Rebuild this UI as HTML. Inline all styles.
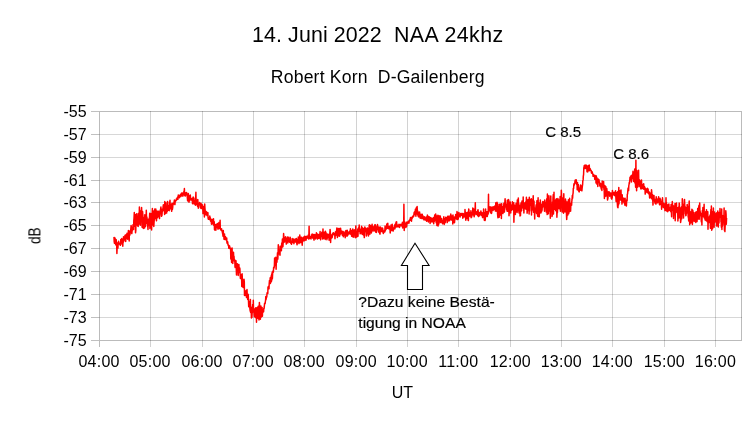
<!DOCTYPE html><html><head><meta charset="utf-8"><title>NAA 24khz</title>
<style>html,body{margin:0;padding:0;background:#fff;}svg{display:block;}text{font-family:"Liberation Sans",sans-serif;fill:#000;}</style></head><body>
<svg width="756" height="425" viewBox="0 0 756 425">
<rect width="100%" height="100%" fill="#fff"/>
<g opacity="0.999">
<path d="M99.0 134.5 H742.0 M99.0 157.5 H742.0 M99.0 180.5 H742.0 M99.0 202.5 H742.0 M99.0 225.5 H742.0 M99.0 248.5 H742.0 M99.0 271.5 H742.0 M99.0 294.5 H742.0 M99.0 317.5 H742.0" stroke="#000" stroke-opacity="0.16" stroke-width="1" fill="none" shape-rendering="crispEdges"/>
<path d="M150.5 111.0 V347.0 M202.5 111.0 V347.0 M253.5 111.0 V347.0 M304.5 111.0 V347.0 M356.5 111.0 V347.0 M407.5 111.0 V347.0 M458.5 111.0 V347.0 M510.5 111.0 V347.0 M561.5 111.0 V347.0 M612.5 111.0 V347.0 M664.5 111.0 V347.0 M715.5 111.0 V347.0" stroke="#000" stroke-opacity="0.18" stroke-width="1" fill="none" shape-rendering="crispEdges"/>
<path d="M91.0 111.5 H99.0 M91.0 134.5 H99.0 M91.0 157.5 H99.0 M91.0 180.5 H99.0 M91.0 202.5 H99.0 M91.0 225.5 H99.0 M91.0 248.5 H99.0 M91.0 271.5 H99.0 M91.0 294.5 H99.0 M91.0 317.5 H99.0 M91.0 340.5 H99.0" stroke="#000" stroke-opacity="0.25" stroke-width="1" fill="none" shape-rendering="crispEdges"/>
<path d="M99.0 340.5 H742.0 M99.0 111.5 H742.0 M99.5 111.0 V347.0 M741.5 111.0 V341.0" stroke="#000" stroke-opacity="0.27" stroke-width="1" fill="none" shape-rendering="crispEdges"/>
<text x="86.6" y="116.55" font-size="16" text-anchor="end">-55</text>
<text x="86.6" y="139.55" font-size="16" text-anchor="end">-57</text>
<text x="86.6" y="162.55" font-size="16" text-anchor="end">-59</text>
<text x="86.6" y="185.55" font-size="16" text-anchor="end">-61</text>
<text x="86.6" y="207.55" font-size="16" text-anchor="end">-63</text>
<text x="86.6" y="230.55" font-size="16" text-anchor="end">-65</text>
<text x="86.6" y="253.55" font-size="16" text-anchor="end">-67</text>
<text x="86.6" y="276.55" font-size="16" text-anchor="end">-69</text>
<text x="86.6" y="299.55" font-size="16" text-anchor="end">-71</text>
<text x="86.6" y="322.55" font-size="16" text-anchor="end">-73</text>
<text x="86.6" y="345.55" font-size="16" text-anchor="end">-75</text>
<text x="99.05" y="366.7" font-size="16" text-anchor="middle" letter-spacing="0.25">04:00</text>
<text x="150.08" y="366.7" font-size="16" text-anchor="middle" letter-spacing="0.25">05:00</text>
<text x="202.11" y="366.7" font-size="16" text-anchor="middle" letter-spacing="0.25">06:00</text>
<text x="253.14" y="366.7" font-size="16" text-anchor="middle" letter-spacing="0.25">07:00</text>
<text x="304.17" y="366.7" font-size="16" text-anchor="middle" letter-spacing="0.25">08:00</text>
<text x="356.20" y="366.7" font-size="16" text-anchor="middle" letter-spacing="0.25">09:00</text>
<text x="407.23" y="366.7" font-size="16" text-anchor="middle" letter-spacing="0.25">10:00</text>
<text x="458.26" y="366.7" font-size="16" text-anchor="middle" letter-spacing="0.25">11:00</text>
<text x="510.29" y="366.7" font-size="16" text-anchor="middle" letter-spacing="0.25">12:00</text>
<text x="561.32" y="366.7" font-size="16" text-anchor="middle" letter-spacing="0.25">13:00</text>
<text x="612.35" y="366.7" font-size="16" text-anchor="middle" letter-spacing="0.25">14:00</text>
<text x="664.38" y="366.7" font-size="16" text-anchor="middle" letter-spacing="0.25">15:00</text>
<text x="715.41" y="366.7" font-size="16" text-anchor="middle" letter-spacing="0.25">16:00</text>
<text x="252.0" y="41.9" font-size="21.4" textLength="129.7">14. Juni 2022</text>
<text x="394.0" y="41.9" font-size="21.4" textLength="109.2">NAA 24khz</text>
<text x="270.8" y="82.5" font-size="17.6" textLength="213.7" xml:space="preserve" style="white-space:pre">Robert Korn  D-Gailenberg</text>
<text x="402.4" y="398.1" font-size="16" text-anchor="middle">UT</text>
<text transform="translate(40.4,244.0) rotate(-90)" font-size="16" textLength="16.7" lengthAdjust="spacingAndGlyphs">dB</text>
<path d="M114.0 236.9 L114.2 241.6 L114.5 243.3 L114.7 239.8 L115.0 238.1 L115.2 241.5 L115.5 243.0 L115.7 244.8 L116.0 239.6 L116.2 239.7 L116.4 244.7 L116.7 244.3 L116.9 253.4 L117.2 245.6 L117.4 243.1 L117.7 242.7 L117.9 248.1 L118.2 242.9 L118.4 241.9 L118.6 241.3 L118.9 243.8 L119.1 243.9 L119.4 243.1 L119.6 243.7 L119.9 244.2 L120.1 244.7 L120.4 245.3 L120.6 243.5 L120.8 239.4 L121.1 244.1 L121.3 239.4 L121.6 241.9 L121.8 238.5 L122.1 241.8 L122.3 239.7 L122.6 241.9 L122.8 246.3 L123.0 240.5 L123.3 242.3 L123.5 236.7 L123.8 238.8 L124.0 240.8 L124.3 238.6 L124.5 239.3 L124.8 238.3 L125.0 235.2 L125.2 238.7 L125.5 234.9 L125.7 241.4 L126.0 234.9 L126.2 237.7 L126.5 235.7 L126.7 238.4 L127.0 233.2 L127.2 238.4 L127.4 234.3 L127.7 239.3 L127.9 236.7 L128.2 234.6 L128.4 230.5 L128.7 237.0 L128.9 235.5 L129.2 240.9 L129.4 231.1 L129.6 235.4 L129.9 235.0 L130.1 233.4 L130.4 232.5 L130.6 231.9 L130.9 227.8 L131.1 225.6 L131.4 227.7 L131.6 231.0 L131.8 233.6 L132.1 230.8 L132.3 230.2 L132.6 228.4 L132.8 227.3 L133.1 224.6 L133.3 226.1 L133.6 229.6 L133.8 220.6 L134.0 218.5 L134.3 212.5 L134.5 222.6 L134.8 226.3 L135.0 225.7 L135.3 214.4 L135.5 232.8 L135.8 230.6 L136.0 221.1 L136.2 224.4 L136.5 220.3 L136.7 213.7 L137.0 218.4 L137.2 221.3 L137.5 225.7 L137.7 223.0 L138.0 218.8 L138.2 226.5 L138.4 213.5 L138.7 222.6 L138.9 224.2 L139.2 215.8 L139.4 206.9 L139.7 211.9 L139.9 218.3 L140.2 219.7 L140.4 225.2 L140.6 210.9 L140.9 216.2 L141.1 219.5 L141.4 215.0 L141.6 207.5 L141.9 220.1 L142.1 227.3 L142.4 221.4 L142.6 211.6 L142.8 214.4 L143.1 218.0 L143.3 228.4 L143.6 220.5 L143.8 218.1 L144.1 225.9 L144.3 217.5 L144.6 227.9 L144.8 214.7 L145.0 216.0 L145.3 222.6 L145.5 226.5 L145.8 222.7 L146.0 221.1 L146.3 210.2 L146.5 216.3 L146.8 217.1 L147.0 217.7 L147.2 223.8 L147.5 219.2 L147.7 225.5 L148.0 229.5 L148.2 219.5 L148.5 221.8 L148.7 223.3 L149.0 225.4 L149.2 218.2 L149.4 219.4 L149.7 213.3 L149.9 228.6 L150.2 227.6 L150.4 219.1 L150.7 217.4 L150.9 213.4 L151.2 220.4 L151.4 220.4 L151.6 230.0 L151.9 220.3 L152.1 215.1 L152.4 208.4 L152.6 225.1 L152.9 219.2 L153.1 211.1 L153.4 218.7 L153.6 211.1 L153.8 226.4 L154.1 221.8 L154.3 219.4 L154.6 216.4 L154.8 209.1 L155.1 216.3 L155.3 211.1 L155.6 218.4 L155.8 209.1 L156.0 213.2 L156.3 219.8 L156.5 220.8 L156.8 212.1 L157.0 211.0 L157.3 217.8 L157.5 217.4 L157.8 212.4 L158.0 212.9 L158.2 212.7 L158.5 211.2 L158.7 212.3 L159.0 217.0 L159.2 215.3 L159.5 218.6 L159.7 212.9 L160.0 212.5 L160.2 210.0 L160.4 212.2 L160.7 208.6 L160.9 207.0 L161.2 214.1 L161.4 216.3 L161.7 214.4 L161.9 215.8 L162.2 212.2 L162.4 208.9 L162.6 211.4 L162.9 209.7 L163.1 206.9 L163.4 204.7 L163.6 205.3 L163.9 210.3 L164.1 210.7 L164.4 208.5 L164.6 214.6 L164.8 201.4 L165.1 211.5 L165.3 213.4 L165.6 206.7 L165.8 202.8 L166.1 211.5 L166.3 206.7 L166.6 213.1 L166.8 209.8 L167.0 211.8 L167.3 210.9 L167.5 201.6 L167.8 210.5 L168.0 205.9 L168.3 205.5 L168.5 206.4 L168.8 210.1 L169.0 210.4 L169.2 210.7 L169.5 202.0 L169.7 205.3 L170.0 200.2 L170.2 206.6 L170.5 208.7 L170.7 204.2 L171.0 207.3 L171.2 207.1 L171.4 209.3 L171.7 211.3 L171.9 203.4 L172.2 203.3 L172.4 209.5 L172.7 207.4 L172.9 204.1 L173.2 204.6 L173.4 204.0 L173.6 203.8 L173.9 202.6 L174.1 202.1 L174.4 200.0 L174.6 200.9 L174.9 204.6 L175.1 202.3 L175.4 201.2 L175.6 200.4 L175.8 200.5 L176.1 200.7 L176.3 199.0 L176.6 199.9 L176.8 199.7 L177.1 198.0 L177.3 197.7 L177.6 197.2 L177.8 196.8 L178.0 199.2 L178.3 194.9 L178.5 197.1 L178.8 196.4 L179.0 196.1 L179.3 196.7 L179.5 197.7 L179.8 196.2 L180.0 195.6 L180.2 194.8 L180.5 195.3 L180.7 196.6 L181.0 194.7 L181.2 193.5 L181.5 193.2 L181.7 193.3 L182.0 192.8 L182.2 196.0 L182.4 194.9 L182.7 193.9 L182.9 196.1 L183.2 193.1 L183.4 194.9 L183.7 194.8 L183.9 191.4 L184.2 191.2 L184.4 188.6 L184.6 194.9 L184.9 195.7 L185.1 192.4 L185.4 195.9 L185.6 194.0 L185.9 194.2 L186.1 194.2 L186.4 194.8 L186.6 192.4 L186.8 194.0 L187.1 193.8 L187.3 197.2 L187.6 200.6 L187.8 201.0 L188.1 196.3 L188.3 193.6 L188.6 196.6 L188.8 195.6 L189.0 202.3 L189.3 199.3 L189.5 196.6 L189.8 200.5 L190.0 199.8 L190.3 195.1 L190.5 197.7 L190.8 198.6 L191.0 199.3 L191.2 199.7 L191.5 198.9 L191.7 200.2 L192.0 198.7 L192.2 198.2 L192.5 203.8 L192.7 201.4 L193.0 201.7 L193.2 197.0 L193.4 200.5 L193.7 203.1 L193.9 198.0 L194.2 204.1 L194.4 200.4 L194.7 202.6 L194.9 201.3 L195.2 202.4 L195.4 205.2 L195.6 201.0 L195.9 192.3 L196.1 200.2 L196.4 200.1 L196.6 204.5 L196.9 200.2 L197.1 202.2 L197.4 205.5 L197.6 206.3 L197.8 199.5 L198.1 205.0 L198.3 208.2 L198.6 206.8 L198.8 203.9 L199.1 203.3 L199.3 204.1 L199.6 202.6 L199.8 204.6 L200.0 204.9 L200.3 205.2 L200.5 207.9 L200.8 205.5 L201.0 203.2 L201.3 208.6 L201.5 204.2 L201.8 205.8 L202.0 206.7 L202.2 206.4 L202.5 204.9 L202.7 207.0 L203.0 213.6 L203.2 206.4 L203.5 207.9 L203.7 211.8 L204.0 211.0 L204.2 211.2 L204.4 217.0 L204.7 204.1 L204.9 207.7 L205.2 210.8 L205.4 212.2 L205.7 214.8 L205.9 213.0 L206.2 211.5 L206.4 212.6 L206.6 212.4 L206.9 214.0 L207.1 215.6 L207.4 213.3 L207.6 212.4 L207.9 212.8 L208.1 218.3 L208.4 219.2 L208.6 218.8 L208.8 218.8 L209.1 219.2 L209.3 217.6 L209.6 219.6 L209.8 216.0 L210.1 218.4 L210.3 217.7 L210.6 221.3 L210.8 218.9 L211.0 220.3 L211.3 221.9 L211.5 224.3 L211.8 219.6 L212.0 219.5 L212.3 224.0 L212.5 219.6 L212.8 223.6 L213.0 221.4 L213.2 222.8 L213.5 218.8 L213.7 225.3 L214.0 222.6 L214.2 221.8 L214.5 229.6 L214.7 226.4 L215.0 230.3 L215.2 226.2 L215.4 224.5 L215.7 225.9 L215.9 230.1 L216.2 225.8 L216.4 227.2 L216.7 227.5 L216.9 223.9 L217.2 226.8 L217.4 225.3 L217.6 223.5 L217.9 229.1 L218.1 228.7 L218.4 227.3 L218.6 225.0 L218.9 222.5 L219.1 228.7 L219.4 227.4 L219.6 223.8 L219.8 227.8 L220.1 220.3 L220.3 228.2 L220.6 229.0 L220.8 229.8 L221.1 230.1 L221.3 230.5 L221.6 228.8 L221.8 230.6 L222.0 230.8 L222.3 231.8 L222.5 233.1 L222.8 234.2 L223.0 236.3 L223.3 230.6 L223.5 235.3 L223.8 234.8 L224.0 239.2 L224.2 237.6 L224.5 233.9 L224.7 237.7 L225.0 236.7 L225.2 239.7 L225.5 236.8 L225.7 238.9 L226.0 239.3 L226.2 239.8 L226.4 239.5 L226.7 238.0 L226.9 242.2 L227.2 243.4 L227.4 242.5 L227.7 241.9 L227.9 244.1 L228.2 245.3 L228.4 244.9 L228.6 245.8 L228.9 248.3 L229.1 245.6 L229.4 247.0 L229.6 245.9 L229.9 248.1 L230.1 248.7 L230.4 249.1 L230.6 248.2 L230.8 258.9 L231.1 251.5 L231.3 252.5 L231.6 262.4 L231.8 254.0 L232.1 247.9 L232.3 257.2 L232.6 252.4 L232.8 263.5 L233.0 252.5 L233.3 255.8 L233.5 252.3 L233.8 260.0 L234.0 256.3 L234.3 261.0 L234.5 260.5 L234.8 260.0 L235.0 266.9 L235.2 267.4 L235.5 264.3 L235.7 260.9 L236.0 260.8 L236.2 266.7 L236.5 274.9 L236.7 264.8 L237.0 264.0 L237.2 264.9 L237.4 263.7 L237.7 264.7 L237.9 268.4 L238.2 275.5 L238.4 270.2 L238.7 268.6 L238.9 264.6 L239.2 272.6 L239.4 272.1 L239.6 267.7 L239.9 268.8 L240.1 273.6 L240.4 278.4 L240.6 277.4 L240.9 276.3 L241.1 274.7 L241.4 277.9 L241.6 277.1 L241.8 286.4 L242.1 273.8 L242.3 277.7 L242.6 285.1 L242.8 279.7 L243.1 287.4 L243.3 282.2 L243.6 283.8 L243.8 282.4 L244.0 279.2 L244.3 281.8 L244.5 295.5 L244.8 290.3 L245.0 291.1 L245.3 293.5 L245.5 293.0 L245.8 295.6 L246.0 291.1 L246.2 291.9 L246.5 297.5 L246.7 292.8 L247.0 289.5 L247.2 294.7 L247.5 294.1 L247.7 299.5 L248.0 294.9 L248.2 294.4 L248.4 298.3 L248.7 306.8 L248.9 301.2 L249.2 302.9 L249.4 303.1 L249.7 305.2 L249.9 308.6 L250.2 311.2 L250.4 299.6 L250.6 312.5 L250.9 307.7 L251.1 307.1 L251.4 317.9 L251.6 308.8 L251.9 317.4 L252.1 313.4 L252.4 312.1 L252.6 304.4 L252.8 304.8 L253.1 311.3 L253.3 300.2 L253.6 312.0 L253.8 308.2 L254.1 314.3 L254.3 316.5 L254.6 309.2 L254.8 316.5 L255.0 309.6 L255.3 317.5 L255.5 310.5 L255.8 307.7 L256.0 315.1 L256.3 311.8 L256.5 322.2 L256.8 308.6 L257.0 318.4 L257.2 307.4 L257.5 316.0 L257.7 310.3 L258.0 317.1 L258.2 306.2 L258.5 318.7 L258.7 308.8 L259.0 320.1 L259.2 307.9 L259.4 302.4 L259.7 306.9 L259.9 317.1 L260.2 310.2 L260.4 319.2 L260.7 307.6 L260.9 306.1 L261.2 309.1 L261.4 316.9 L261.6 308.6 L261.9 316.2 L262.1 307.4 L262.4 316.3 L262.6 309.9 L262.9 310.0 L263.1 312.1 L263.4 310.3 L263.6 311.7 L263.8 308.3 L264.1 308.5 L264.3 306.7 L264.6 303.3 L264.8 303.7 L265.1 303.6 L265.3 302.0 L265.6 300.1 L265.8 296.5 L266.0 299.6 L266.3 298.0 L266.5 297.4 L266.8 296.7 L267.0 293.6 L267.3 292.4 L267.5 292.5 L267.8 293.4 L268.0 287.1 L268.2 288.4 L268.5 286.3 L268.7 287.7 L269.0 288.7 L269.2 283.7 L269.5 280.4 L269.7 283.0 L270.0 281.5 L270.2 277.7 L270.4 283.4 L270.7 279.1 L270.9 281.8 L271.2 275.7 L271.4 281.8 L271.7 274.0 L271.9 279.9 L272.2 272.0 L272.4 278.5 L272.6 273.9 L272.9 271.0 L273.1 272.4 L273.4 272.0 L273.6 267.7 L273.9 267.2 L274.1 267.8 L274.4 265.4 L274.6 257.9 L274.8 262.5 L275.1 264.7 L275.3 263.3 L275.6 265.4 L275.8 257.2 L276.1 269.3 L276.3 262.5 L276.6 259.7 L276.8 262.5 L277.0 261.3 L277.3 256.8 L277.5 252.8 L277.8 259.1 L278.0 255.4 L278.3 244.7 L278.5 247.6 L278.8 253.9 L279.0 251.7 L279.2 251.9 L279.5 252.8 L279.7 250.2 L280.0 255.3 L280.2 246.2 L280.5 246.4 L280.7 248.6 L281.0 249.5 L281.2 249.1 L281.4 250.7 L281.7 243.0 L281.9 247.7 L282.2 244.6 L282.4 239.1 L282.7 241.1 L282.9 246.7 L283.2 242.7 L283.4 238.8 L283.6 233.6 L283.9 237.3 L284.1 237.3 L284.4 238.9 L284.6 242.1 L284.9 240.0 L285.1 239.4 L285.4 237.3 L285.6 236.8 L285.8 238.8 L286.1 238.4 L286.3 244.1 L286.6 238.6 L286.8 238.2 L287.1 242.5 L287.3 240.1 L287.6 237.1 L287.8 243.0 L288.0 239.5 L288.3 237.3 L288.5 241.0 L288.8 241.4 L289.0 239.8 L289.3 241.9 L289.5 242.2 L289.8 239.2 L290.0 237.3 L290.2 237.3 L290.5 240.8 L290.7 243.1 L291.0 242.7 L291.2 243.4 L291.5 244.2 L291.7 241.2 L292.0 243.0 L292.2 238.6 L292.4 242.4 L292.7 241.9 L292.9 241.0 L293.2 240.4 L293.4 239.1 L293.7 241.5 L293.9 243.7 L294.2 240.5 L294.4 242.3 L294.6 239.8 L294.9 241.7 L295.1 239.0 L295.4 242.0 L295.6 240.7 L295.9 241.9 L296.1 239.8 L296.4 238.4 L296.6 240.3 L296.8 243.5 L297.1 244.8 L297.3 240.2 L297.6 242.8 L297.8 242.7 L298.1 241.8 L298.3 237.0 L298.6 241.5 L298.8 238.2 L299.0 243.6 L299.3 242.5 L299.5 242.1 L299.8 234.9 L300.0 242.0 L300.3 242.2 L300.5 237.0 L300.8 242.8 L301.0 240.4 L301.2 239.7 L301.5 238.2 L301.7 237.3 L302.0 238.8 L302.2 245.2 L302.5 240.2 L302.7 240.1 L303.0 237.9 L303.2 237.9 L303.4 238.0 L303.7 237.1 L303.9 240.9 L304.2 238.3 L304.4 240.6 L304.7 236.3 L304.9 240.4 L305.2 238.4 L305.4 239.6 L305.6 238.0 L305.9 236.5 L306.1 240.1 L306.4 237.1 L306.6 237.5 L306.9 236.2 L307.1 238.1 L307.4 237.0 L307.6 238.1 L307.8 238.2 L308.1 236.4 L308.3 235.1 L308.6 238.3 L308.8 239.1 L309.1 226.3 L309.3 235.5 L309.6 238.5 L309.8 238.1 L310.0 237.9 L310.3 238.1 L310.5 236.8 L310.8 237.7 L311.0 238.9 L311.3 236.4 L311.5 234.7 L311.8 237.0 L312.0 237.5 L312.2 233.9 L312.5 235.9 L312.7 238.1 L313.0 236.7 L313.2 237.1 L313.5 234.6 L313.7 238.6 L314.0 240.1 L314.2 236.4 L314.4 235.3 L314.7 234.5 L314.9 238.4 L315.2 236.8 L315.4 235.0 L315.7 238.9 L315.9 238.0 L316.2 237.6 L316.4 232.8 L316.6 236.1 L316.9 237.6 L317.1 233.7 L317.4 238.1 L317.6 239.1 L317.9 238.2 L318.1 234.5 L318.4 234.4 L318.6 237.8 L318.8 237.9 L319.1 238.3 L319.3 238.2 L319.6 235.4 L319.8 234.7 L320.1 231.6 L320.3 237.0 L320.6 239.8 L320.8 234.3 L321.0 234.2 L321.3 236.5 L321.5 235.8 L321.8 232.2 L322.0 233.5 L322.3 232.6 L322.5 239.0 L322.8 233.3 L323.0 228.9 L323.2 238.7 L323.5 238.6 L323.7 237.7 L324.0 238.2 L324.2 232.2 L324.5 234.1 L324.7 233.3 L325.0 234.3 L325.2 239.5 L325.4 231.3 L325.7 236.2 L325.9 232.3 L326.2 237.9 L326.4 237.9 L326.7 234.0 L326.9 239.7 L327.2 235.3 L327.4 238.1 L327.6 235.9 L327.9 234.0 L328.1 234.4 L328.4 235.0 L328.6 236.7 L328.9 235.6 L329.1 240.3 L329.4 235.0 L329.6 234.4 L329.8 233.8 L330.1 229.4 L330.3 232.1 L330.6 242.4 L330.8 237.6 L331.1 235.5 L331.3 234.9 L331.6 236.2 L331.8 238.0 L332.0 236.8 L332.3 237.2 L332.5 233.7 L332.8 234.4 L333.0 233.0 L333.3 234.8 L333.5 232.8 L333.8 234.0 L334.0 234.5 L334.2 234.3 L334.5 234.2 L334.7 233.5 L335.0 238.8 L335.2 233.8 L335.5 231.7 L335.7 235.4 L336.0 231.4 L336.2 231.3 L336.4 235.0 L336.7 229.4 L336.9 227.9 L337.2 235.4 L337.4 237.5 L337.7 229.4 L337.9 231.7 L338.2 235.9 L338.4 228.5 L338.6 231.6 L338.9 230.7 L339.1 233.4 L339.4 228.6 L339.6 236.2 L339.9 233.4 L340.1 234.5 L340.4 232.8 L340.6 228.3 L340.8 233.2 L341.1 230.3 L341.3 233.6 L341.6 231.5 L341.8 232.8 L342.1 233.1 L342.3 235.3 L342.6 235.3 L342.8 231.3 L343.0 233.5 L343.3 236.7 L343.5 234.6 L343.8 232.0 L344.0 233.3 L344.3 232.9 L344.5 235.5 L344.8 233.6 L345.0 234.3 L345.2 237.7 L345.5 231.0 L345.7 231.7 L346.0 230.5 L346.2 230.8 L346.5 235.1 L346.7 234.1 L347.0 236.3 L347.2 230.2 L347.4 231.8 L347.7 235.4 L347.9 234.6 L348.2 234.2 L348.4 234.0 L348.7 232.3 L348.9 232.1 L349.2 231.9 L349.4 233.3 L349.6 231.2 L349.9 231.9 L350.1 234.3 L350.4 228.8 L350.6 229.7 L350.9 232.6 L351.1 230.8 L351.4 231.1 L351.6 236.2 L351.8 232.4 L352.1 230.5 L352.3 234.1 L352.6 236.7 L352.8 229.0 L353.1 230.0 L353.3 232.0 L353.6 230.2 L353.8 237.2 L354.0 233.1 L354.3 230.8 L354.5 233.2 L354.8 229.8 L355.0 230.4 L355.3 232.3 L355.5 237.8 L355.8 226.1 L356.0 233.0 L356.2 235.6 L356.5 233.9 L356.7 237.1 L357.0 233.0 L357.2 232.1 L357.5 231.3 L357.7 229.2 L358.0 236.3 L358.2 228.2 L358.4 231.2 L358.7 230.0 L358.9 229.2 L359.2 225.1 L359.4 230.2 L359.7 231.7 L359.9 231.7 L360.2 233.8 L360.4 230.7 L360.6 229.2 L360.9 232.1 L361.1 233.1 L361.4 228.3 L361.6 226.3 L361.9 227.8 L362.1 234.3 L362.4 234.1 L362.6 228.1 L362.8 231.2 L363.1 233.5 L363.3 235.0 L363.6 228.6 L363.8 229.9 L364.1 235.2 L364.3 237.6 L364.6 235.5 L364.8 226.9 L365.0 232.0 L365.3 229.5 L365.5 230.3 L365.8 228.3 L366.0 228.9 L366.3 230.3 L366.5 235.9 L366.8 232.4 L367.0 231.6 L367.2 230.3 L367.5 227.9 L367.7 229.4 L368.0 233.9 L368.2 232.6 L368.5 235.9 L368.7 230.8 L369.0 229.9 L369.2 225.1 L369.4 231.1 L369.7 224.8 L369.9 234.3 L370.2 228.0 L370.4 229.8 L370.7 225.8 L370.9 228.3 L371.2 227.0 L371.4 232.9 L371.6 230.3 L371.9 226.3 L372.1 224.2 L372.4 229.4 L372.6 228.2 L372.9 226.4 L373.1 231.1 L373.4 229.0 L373.6 229.7 L373.8 227.8 L374.1 227.9 L374.3 228.2 L374.6 225.1 L374.8 231.0 L375.1 230.4 L375.3 224.8 L375.6 229.5 L375.8 232.2 L376.0 229.8 L376.3 232.5 L376.5 228.5 L376.8 229.2 L377.0 225.9 L377.3 226.9 L377.5 224.6 L377.8 227.0 L378.0 229.8 L378.2 230.5 L378.5 232.1 L378.7 229.6 L379.0 227.0 L379.2 230.4 L379.5 229.1 L379.7 233.6 L380.0 234.1 L380.2 231.8 L380.4 227.0 L380.7 228.5 L380.9 230.1 L381.2 228.1 L381.4 230.9 L381.7 231.3 L381.9 231.7 L382.2 230.4 L382.4 228.0 L382.6 228.2 L382.9 229.8 L383.1 232.9 L383.4 233.5 L383.6 232.2 L383.9 230.9 L384.1 231.4 L384.4 231.4 L384.6 232.1 L384.8 231.0 L385.1 226.1 L385.3 230.8 L385.6 229.4 L385.8 227.5 L386.1 229.2 L386.3 228.5 L386.6 227.6 L386.8 224.0 L387.0 227.5 L387.3 228.2 L387.5 226.7 L387.8 223.2 L388.0 228.0 L388.3 228.7 L388.5 227.7 L388.8 228.3 L389.0 226.7 L389.2 226.2 L389.5 229.0 L389.7 227.1 L390.0 228.5 L390.2 233.0 L390.5 229.9 L390.7 228.8 L391.0 225.0 L391.2 229.0 L391.4 230.6 L391.7 227.5 L391.9 228.6 L392.2 224.3 L392.4 230.4 L392.7 227.7 L392.9 230.0 L393.2 231.0 L393.4 227.7 L393.6 229.7 L393.9 228.0 L394.1 226.8 L394.4 226.4 L394.6 225.0 L394.9 228.8 L395.1 227.7 L395.4 223.9 L395.6 227.0 L395.8 223.8 L396.1 222.1 L396.3 227.0 L396.6 221.7 L396.8 226.8 L397.1 224.8 L397.3 226.3 L397.6 225.5 L397.8 226.8 L398.0 225.3 L398.3 225.8 L398.5 225.2 L398.8 226.7 L399.0 224.3 L399.3 226.6 L399.5 227.4 L399.8 225.0 L400.0 225.8 L400.2 224.5 L400.5 224.9 L400.7 225.7 L401.0 224.9 L401.2 224.2 L401.5 225.3 L401.7 225.6 L402.0 225.8 L402.2 226.6 L402.4 222.2 L402.7 227.9 L402.9 225.0 L403.2 223.8 L403.4 224.6 L403.7 226.1 L403.9 204.3 L404.2 230.5 L404.4 225.3 L404.6 221.8 L404.9 225.0 L405.1 224.3 L405.4 223.6 L405.6 225.9 L405.9 227.5 L406.1 225.9 L406.4 222.3 L406.6 226.5 L406.8 222.8 L407.1 223.2 L407.3 222.0 L407.6 223.6 L407.8 223.5 L408.1 222.6 L408.3 221.7 L408.6 221.6 L408.8 220.9 L409.0 223.1 L409.3 220.2 L409.5 220.6 L409.8 220.3 L410.0 219.1 L410.3 219.8 L410.5 217.4 L410.8 220.4 L411.0 220.3 L411.2 218.7 L411.5 221.2 L411.7 217.4 L412.0 218.7 L412.2 218.1 L412.5 216.5 L412.7 216.4 L413.0 217.2 L413.2 215.9 L413.4 215.6 L413.7 216.3 L413.9 214.7 L414.2 212.3 L414.4 212.7 L414.7 214.4 L414.9 213.0 L415.2 211.2 L415.4 209.2 L415.6 213.7 L415.9 216.2 L416.1 210.0 L416.4 207.5 L416.6 214.1 L416.9 211.3 L417.1 206.4 L417.4 212.1 L417.6 210.7 L417.8 214.5 L418.1 216.0 L418.3 214.6 L418.6 212.3 L418.8 216.9 L419.1 213.9 L419.3 216.0 L419.6 211.9 L419.8 216.5 L420.0 216.8 L420.3 218.3 L420.5 215.3 L420.8 216.5 L421.0 214.3 L421.3 217.9 L421.5 217.8 L421.8 218.6 L422.0 215.7 L422.2 214.2 L422.5 216.7 L422.7 216.7 L423.0 216.0 L423.2 218.5 L423.5 219.2 L423.7 218.5 L424.0 219.9 L424.2 218.9 L424.4 216.7 L424.7 217.4 L424.9 217.8 L425.2 219.5 L425.4 220.0 L425.7 218.7 L425.9 220.2 L426.2 217.0 L426.4 218.3 L426.6 221.3 L426.9 219.4 L427.1 220.5 L427.4 215.1 L427.6 215.5 L427.9 217.1 L428.1 220.7 L428.4 221.9 L428.6 217.6 L428.8 216.8 L429.1 216.7 L429.3 217.0 L429.6 220.2 L429.8 218.3 L430.1 223.5 L430.3 220.9 L430.6 217.4 L430.8 219.8 L431.0 218.8 L431.3 221.4 L431.5 221.8 L431.8 218.3 L432.0 221.9 L432.3 221.1 L432.5 219.2 L432.8 220.3 L433.0 221.7 L433.2 218.5 L433.5 217.4 L433.7 223.8 L434.0 219.7 L434.2 217.7 L434.5 221.2 L434.7 214.9 L435.0 219.9 L435.2 215.3 L435.4 218.4 L435.7 214.0 L435.9 217.5 L436.2 222.7 L436.4 219.2 L436.7 215.9 L436.9 225.5 L437.2 217.8 L437.4 224.7 L437.6 218.2 L437.9 215.2 L438.1 225.9 L438.4 218.6 L438.6 222.5 L438.9 223.9 L439.1 215.8 L439.4 220.3 L439.6 218.2 L439.8 222.0 L440.1 220.1 L440.3 216.0 L440.6 220.3 L440.8 222.6 L441.1 219.2 L441.3 221.9 L441.6 218.4 L441.8 219.9 L442.0 221.1 L442.3 220.4 L442.5 223.7 L442.8 222.7 L443.0 222.3 L443.3 221.9 L443.5 220.3 L443.8 216.7 L444.0 222.7 L444.2 224.4 L444.5 220.4 L444.7 219.1 L445.0 219.6 L445.2 222.7 L445.5 220.4 L445.7 217.3 L446.0 219.2 L446.2 217.8 L446.4 219.1 L446.7 217.6 L446.9 217.6 L447.2 222.6 L447.4 221.6 L447.7 216.2 L447.9 217.4 L448.2 218.5 L448.4 218.6 L448.6 216.6 L448.9 221.0 L449.1 215.9 L449.4 220.6 L449.6 220.6 L449.9 218.2 L450.1 217.6 L450.4 219.1 L450.6 219.2 L450.8 214.0 L451.1 215.9 L451.3 220.0 L451.6 218.4 L451.8 217.6 L452.1 216.1 L452.3 216.8 L452.6 216.5 L452.8 224.1 L453.0 215.1 L453.3 222.4 L453.5 219.6 L453.8 218.8 L454.0 218.7 L454.3 217.1 L454.5 222.7 L454.8 219.5 L455.0 217.9 L455.2 217.6 L455.5 218.5 L455.7 214.4 L456.0 216.7 L456.2 215.7 L456.5 219.1 L456.7 218.9 L457.0 211.6 L457.2 216.2 L457.4 219.6 L457.7 212.9 L457.9 213.0 L458.2 219.1 L458.4 215.7 L458.7 214.7 L458.9 212.4 L459.2 216.1 L459.4 213.9 L459.6 215.9 L459.9 216.4 L460.1 217.0 L460.4 214.0 L460.6 213.4 L460.9 215.0 L461.1 214.7 L461.4 215.4 L461.6 213.5 L461.8 214.3 L462.1 213.4 L462.3 213.4 L462.6 215.5 L462.8 218.2 L463.1 213.6 L463.3 216.7 L463.6 216.0 L463.8 215.4 L464.0 217.0 L464.3 213.7 L464.5 216.7 L464.8 216.0 L465.0 209.5 L465.3 216.2 L465.5 216.8 L465.8 220.3 L466.0 212.6 L466.2 215.6 L466.5 216.2 L466.7 213.0 L467.0 218.4 L467.2 216.5 L467.5 213.4 L467.7 212.3 L468.0 214.1 L468.2 220.6 L468.4 220.5 L468.7 209.0 L468.9 209.9 L469.2 216.4 L469.4 214.2 L469.7 212.7 L469.9 216.0 L470.2 214.5 L470.4 214.9 L470.6 214.8 L470.9 210.7 L471.1 217.7 L471.4 212.3 L471.6 217.1 L471.9 215.7 L472.1 213.7 L472.4 214.0 L472.6 213.5 L472.8 208.1 L473.1 212.7 L473.3 214.9 L473.6 208.9 L473.8 209.3 L474.1 216.8 L474.3 216.0 L474.6 209.2 L474.8 215.0 L475.0 213.5 L475.3 202.8 L475.5 212.8 L475.8 213.1 L476.0 211.6 L476.3 214.2 L476.5 213.4 L476.8 211.9 L477.0 212.8 L477.2 211.7 L477.5 215.4 L477.7 211.0 L478.0 209.7 L478.2 211.3 L478.5 216.6 L478.7 212.5 L479.0 215.4 L479.2 215.7 L479.4 212.5 L479.7 215.7 L479.9 215.1 L480.2 213.8 L480.4 212.2 L480.7 213.8 L480.9 210.9 L481.2 213.4 L481.4 212.7 L481.6 215.4 L481.9 215.2 L482.1 212.8 L482.4 216.7 L482.6 217.6 L482.9 214.8 L483.1 212.7 L483.4 216.0 L483.6 209.0 L483.8 213.3 L484.1 216.5 L484.3 220.3 L484.6 213.1 L484.8 219.2 L485.1 220.5 L485.3 219.3 L485.6 208.9 L485.8 216.9 L486.0 214.4 L486.3 216.2 L486.5 213.0 L486.8 211.7 L487.0 212.4 L487.3 216.5 L487.5 214.6 L487.8 211.5 L488.0 213.0 L488.2 214.0 L488.5 194.3 L488.7 211.3 L489.0 209.6 L489.2 209.2 L489.5 209.9 L489.7 209.5 L490.0 206.8 L490.2 207.1 L490.4 212.7 L490.7 207.6 L490.9 207.0 L491.2 210.0 L491.4 213.4 L491.7 212.8 L491.9 208.8 L492.2 207.2 L492.4 208.2 L492.6 207.2 L492.9 208.0 L493.1 210.5 L493.4 206.7 L493.6 207.3 L493.9 208.6 L494.1 209.2 L494.4 207.2 L494.6 207.1 L494.8 206.1 L495.1 207.2 L495.3 210.9 L495.6 208.6 L495.8 202.8 L496.1 211.2 L496.3 209.1 L496.6 206.6 L496.8 208.5 L497.0 202.2 L497.3 203.8 L497.5 213.3 L497.8 216.7 L498.0 217.8 L498.3 206.5 L498.5 209.6 L498.8 212.7 L499.0 204.3 L499.2 217.2 L499.5 206.4 L499.7 211.2 L500.0 204.3 L500.2 211.5 L500.5 209.7 L500.7 215.2 L501.0 204.0 L501.2 209.8 L501.4 218.5 L501.7 203.8 L501.9 210.6 L502.2 210.7 L502.4 206.5 L502.7 207.2 L502.9 213.5 L503.2 212.0 L503.4 209.5 L503.6 208.1 L503.9 203.2 L504.1 207.0 L504.4 212.1 L504.6 209.8 L504.9 201.6 L505.1 198.8 L505.4 203.7 L505.6 206.7 L505.8 203.9 L506.1 204.7 L506.3 207.3 L506.6 209.7 L506.8 206.9 L507.1 211.2 L507.3 200.2 L507.6 208.1 L507.8 208.0 L508.0 200.0 L508.3 211.6 L508.5 199.6 L508.8 200.3 L509.0 215.7 L509.3 212.1 L509.5 208.2 L509.8 212.5 L510.0 211.7 L510.2 201.9 L510.5 208.9 L510.7 213.0 L511.0 206.2 L511.2 207.3 L511.5 205.0 L511.7 210.3 L512.0 204.7 L512.2 204.6 L512.4 201.8 L512.7 203.2 L512.9 208.3 L513.2 209.5 L513.4 205.7 L513.7 202.7 L513.9 222.2 L514.2 209.2 L514.4 213.3 L514.6 205.3 L514.9 205.6 L515.1 209.8 L515.4 214.4 L515.6 207.3 L515.9 207.1 L516.1 203.2 L516.4 205.8 L516.6 211.7 L516.8 211.2 L517.1 212.4 L517.3 200.1 L517.6 211.1 L517.8 203.3 L518.1 210.0 L518.3 197.9 L518.6 206.9 L518.8 203.5 L519.0 213.0 L519.3 207.9 L519.5 213.0 L519.8 205.4 L520.0 215.9 L520.3 205.4 L520.5 215.6 L520.8 205.2 L521.0 203.0 L521.2 211.1 L521.5 205.4 L521.7 206.8 L522.0 201.1 L522.2 205.4 L522.5 207.3 L522.7 203.6 L523.0 208.4 L523.2 197.0 L523.4 210.4 L523.7 204.5 L523.9 212.9 L524.2 204.6 L524.4 203.1 L524.7 203.9 L524.9 207.2 L525.2 208.6 L525.4 203.6 L525.6 202.0 L525.9 207.6 L526.1 209.3 L526.4 197.2 L526.6 200.3 L526.9 202.0 L527.1 213.2 L527.4 210.9 L527.6 208.7 L527.8 207.2 L528.1 199.4 L528.3 210.1 L528.6 202.4 L528.8 200.6 L529.1 213.9 L529.3 197.2 L529.6 211.0 L529.8 205.1 L530.0 199.5 L530.3 204.9 L530.5 199.6 L530.8 204.8 L531.0 201.0 L531.3 198.7 L531.5 215.1 L531.8 202.6 L532.0 210.2 L532.2 205.3 L532.5 209.2 L532.7 199.8 L533.0 201.1 L533.2 195.8 L533.5 212.2 L533.7 209.6 L534.0 201.0 L534.2 212.0 L534.4 210.6 L534.7 219.0 L534.9 208.6 L535.2 212.2 L535.4 210.5 L535.7 211.3 L535.9 207.0 L536.2 204.8 L536.4 210.8 L536.6 213.6 L536.9 200.7 L537.1 200.8 L537.4 206.6 L537.6 216.3 L537.9 205.6 L538.1 197.7 L538.4 210.9 L538.6 210.6 L538.8 216.7 L539.1 207.5 L539.3 216.7 L539.6 202.7 L539.8 211.1 L540.1 207.0 L540.3 200.1 L540.6 204.8 L540.8 213.0 L541.0 211.9 L541.3 204.2 L541.5 211.7 L541.8 210.6 L542.0 210.5 L542.3 207.4 L542.5 207.4 L542.8 201.6 L543.0 205.5 L543.2 206.4 L543.5 201.9 L543.7 204.2 L544.0 206.5 L544.2 206.7 L544.5 211.2 L544.7 200.0 L545.0 203.3 L545.2 206.9 L545.4 203.3 L545.7 207.2 L545.9 202.7 L546.2 211.9 L546.4 204.0 L546.7 198.8 L546.9 209.4 L547.2 214.6 L547.4 194.0 L547.6 204.3 L547.9 205.4 L548.1 211.0 L548.4 213.7 L548.6 204.0 L548.9 195.7 L549.1 209.0 L549.4 211.1 L549.6 207.9 L549.8 205.6 L550.1 200.2 L550.3 218.3 L550.6 197.8 L550.8 195.9 L551.1 211.5 L551.3 207.2 L551.6 209.7 L551.8 207.8 L552.0 216.4 L552.3 214.8 L552.5 202.1 L552.8 212.3 L553.0 198.1 L553.3 194.6 L553.5 213.9 L553.8 203.1 L554.0 192.3 L554.2 205.8 L554.5 201.4 L554.7 209.2 L555.0 205.3 L555.2 200.5 L555.5 200.8 L555.7 210.7 L556.0 199.2 L556.2 206.3 L556.4 198.7 L556.7 208.3 L556.9 217.2 L557.2 209.0 L557.4 212.6 L557.7 208.1 L557.9 198.5 L558.2 202.9 L558.4 205.3 L558.6 207.7 L558.9 200.6 L559.1 208.8 L559.4 199.7 L559.6 205.0 L559.9 204.4 L560.1 196.6 L560.4 211.2 L560.6 204.8 L560.8 205.3 L561.1 204.4 L561.3 190.3 L561.6 195.2 L561.8 198.7 L562.1 212.0 L562.3 201.1 L562.6 209.5 L562.8 198.1 L563.0 199.4 L563.3 202.2 L563.5 213.2 L563.8 193.8 L564.0 204.6 L564.3 208.9 L564.5 207.0 L564.8 206.0 L565.0 212.0 L565.2 208.4 L565.5 199.1 L565.7 210.7 L566.0 201.0 L566.2 204.1 L566.5 215.5 L566.7 219.4 L567.0 215.0 L567.2 208.8 L567.4 202.0 L567.7 202.3 L567.9 215.0 L568.2 208.0 L568.4 199.8 L568.7 213.6 L568.9 209.0 L569.2 212.0 L569.4 208.1 L569.6 198.3 L569.9 203.7 L570.1 205.7 L570.4 205.5 L570.6 211.3 L570.9 203.4 L571.1 205.3 L571.4 205.3 L571.6 205.1 L571.8 201.4 L572.1 199.2 L572.3 195.5 L572.6 198.1 L572.8 194.7 L573.1 193.2 L573.3 188.4 L573.6 188.4 L573.8 185.1 L574.0 183.7 L574.3 185.0 L574.5 184.2 L574.8 182.8 L575.0 181.0 L575.3 179.9 L575.5 182.9 L575.8 182.9 L576.0 180.0 L576.2 179.8 L576.5 183.4 L576.7 184.2 L577.0 182.8 L577.2 189.8 L577.5 182.5 L577.7 186.0 L578.0 188.3 L578.2 190.1 L578.4 184.7 L578.7 187.7 L578.9 191.7 L579.2 191.9 L579.4 188.8 L579.7 189.7 L579.9 187.9 L580.2 190.2 L580.4 187.2 L580.6 185.1 L580.9 185.9 L581.1 188.9 L581.4 186.0 L581.6 190.6 L581.9 190.8 L582.1 188.4 L582.4 185.8 L582.6 184.7 L582.8 181.0 L583.1 179.9 L583.3 176.4 L583.6 174.3 L583.8 168.0 L584.1 166.6 L584.3 165.4 L584.6 168.5 L584.8 167.4 L585.0 165.3 L585.3 165.0 L585.5 165.7 L585.8 168.4 L586.0 166.7 L586.3 166.4 L586.5 165.3 L586.8 167.0 L587.0 171.7 L587.2 165.9 L587.5 166.9 L587.7 171.9 L588.0 169.7 L588.2 165.8 L588.5 170.7 L588.7 166.1 L589.0 169.8 L589.2 165.0 L589.4 167.4 L589.7 170.7 L589.9 168.5 L590.2 168.6 L590.4 169.7 L590.7 170.1 L590.9 170.2 L591.2 170.5 L591.4 172.9 L591.6 173.2 L591.9 172.6 L592.1 171.7 L592.4 172.7 L592.6 173.4 L592.9 174.6 L593.1 176.3 L593.4 174.4 L593.6 175.7 L593.8 175.2 L594.1 176.4 L594.3 175.3 L594.6 177.5 L594.8 179.3 L595.1 176.7 L595.3 177.1 L595.6 178.4 L595.8 175.5 L596.0 183.1 L596.3 175.9 L596.5 178.6 L596.8 177.4 L597.0 184.3 L597.3 178.9 L597.5 179.1 L597.8 186.5 L598.0 180.8 L598.2 179.0 L598.5 181.6 L598.7 182.5 L599.0 179.7 L599.2 181.8 L599.5 182.0 L599.7 185.5 L600.0 185.9 L600.2 186.4 L600.4 183.4 L600.7 186.9 L600.9 183.8 L601.2 188.9 L601.4 186.7 L601.7 184.2 L601.9 190.5 L602.2 181.0 L602.4 183.3 L602.6 184.3 L602.9 187.1 L603.1 183.3 L603.4 183.8 L603.6 181.5 L603.9 189.5 L604.1 186.5 L604.4 198.5 L604.6 193.5 L604.8 185.5 L605.1 196.4 L605.3 191.3 L605.6 195.5 L605.8 186.5 L606.1 196.0 L606.3 195.8 L606.6 190.0 L606.8 188.5 L607.0 190.5 L607.3 193.1 L607.5 200.0 L607.8 198.8 L608.0 197.8 L608.3 192.0 L608.5 191.8 L608.8 194.2 L609.0 192.3 L609.2 191.9 L609.5 192.9 L609.7 196.2 L610.0 193.5 L610.2 194.6 L610.5 193.1 L610.7 193.4 L611.0 193.1 L611.2 198.2 L611.4 195.1 L611.7 199.1 L611.9 194.0 L612.2 198.0 L612.4 190.4 L612.7 193.6 L612.9 194.8 L613.2 193.1 L613.4 194.8 L613.6 192.4 L613.9 194.8 L614.1 193.2 L614.4 195.5 L614.6 194.5 L614.9 191.9 L615.1 194.1 L615.4 195.9 L615.6 190.7 L615.8 196.4 L616.1 201.5 L616.3 195.1 L616.6 198.7 L616.8 199.2 L617.1 192.6 L617.3 202.9 L617.6 207.2 L617.8 191.6 L618.0 207.8 L618.3 193.4 L618.5 204.9 L618.8 187.6 L619.0 203.6 L619.3 198.3 L619.5 190.5 L619.8 193.5 L620.0 192.7 L620.2 193.8 L620.5 200.0 L620.7 197.7 L621.0 189.9 L621.2 197.6 L621.5 200.5 L621.7 199.4 L622.0 204.1 L622.2 194.8 L622.4 200.3 L622.7 200.2 L622.9 202.0 L623.2 198.0 L623.4 198.4 L623.7 201.2 L623.9 202.1 L624.2 198.6 L624.4 203.5 L624.6 203.1 L624.9 205.2 L625.1 198.3 L625.4 204.9 L625.6 201.2 L625.9 202.1 L626.1 204.7 L626.4 206.0 L626.6 201.6 L626.8 199.7 L627.1 200.8 L627.3 194.4 L627.6 193.8 L627.8 191.1 L628.1 188.1 L628.3 188.3 L628.6 190.6 L628.8 185.7 L629.0 184.8 L629.3 182.3 L629.5 183.2 L629.8 180.3 L630.0 177.2 L630.3 178.1 L630.5 179.8 L630.8 176.3 L631.0 179.0 L631.2 175.6 L631.5 181.9 L631.7 176.8 L632.0 178.0 L632.2 175.1 L632.5 178.8 L632.7 175.4 L633.0 171.3 L633.2 177.3 L633.4 172.2 L633.7 181.6 L633.9 179.3 L634.2 176.6 L634.4 179.2 L634.7 169.0 L634.9 183.0 L635.2 174.9 L635.4 180.5 L635.6 187.2 L635.9 160.3 L636.1 176.5 L636.4 180.3 L636.6 190.7 L636.9 170.5 L637.1 174.4 L637.4 187.3 L637.6 176.4 L637.8 182.8 L638.1 172.5 L638.3 175.1 L638.6 170.3 L638.8 182.1 L639.1 186.7 L639.3 181.6 L639.6 180.1 L639.8 182.6 L640.0 183.7 L640.3 181.0 L640.5 184.2 L640.8 188.8 L641.0 189.0 L641.3 181.5 L641.5 180.1 L641.8 188.6 L642.0 186.5 L642.2 187.5 L642.5 186.3 L642.7 184.5 L643.0 187.9 L643.2 188.5 L643.5 189.0 L643.7 183.8 L644.0 189.3 L644.2 186.3 L644.4 186.6 L644.7 188.7 L644.9 187.2 L645.2 194.1 L645.4 190.2 L645.7 189.7 L645.9 188.8 L646.2 190.1 L646.4 189.4 L646.6 191.5 L646.9 192.4 L647.1 192.7 L647.4 188.2 L647.6 190.6 L647.9 191.9 L648.1 189.1 L648.4 193.2 L648.6 192.3 L648.8 193.1 L649.1 194.2 L649.3 191.9 L649.6 198.0 L649.8 197.0 L650.1 193.0 L650.3 196.1 L650.6 197.3 L650.8 193.2 L651.0 194.7 L651.3 198.2 L651.5 189.7 L651.8 192.5 L652.0 198.1 L652.3 199.5 L652.5 194.4 L652.8 200.7 L653.0 205.1 L653.2 198.8 L653.5 198.2 L653.7 198.7 L654.0 195.6 L654.2 200.4 L654.5 199.5 L654.7 201.2 L655.0 203.1 L655.2 199.6 L655.4 200.2 L655.7 200.7 L655.9 204.1 L656.2 196.8 L656.4 200.3 L656.7 198.8 L656.9 200.8 L657.2 202.8 L657.4 200.8 L657.6 202.8 L657.9 201.4 L658.1 198.8 L658.4 199.0 L658.6 196.8 L658.9 201.9 L659.1 200.0 L659.4 204.1 L659.6 204.7 L659.8 198.6 L660.1 198.3 L660.3 204.0 L660.6 199.6 L660.8 203.3 L661.1 204.9 L661.3 202.0 L661.6 209.2 L661.8 201.3 L662.0 205.4 L662.3 203.0 L662.5 197.7 L662.8 204.3 L663.0 204.6 L663.3 207.3 L663.5 205.2 L663.8 203.2 L664.0 204.0 L664.2 204.8 L664.5 208.7 L664.7 205.0 L665.0 210.7 L665.2 209.4 L665.5 203.3 L665.7 210.3 L666.0 197.7 L666.2 206.5 L666.4 202.4 L666.7 206.1 L666.9 211.2 L667.2 206.8 L667.4 206.4 L667.7 211.7 L667.9 204.8 L668.2 204.9 L668.4 210.7 L668.6 209.7 L668.9 204.1 L669.1 208.7 L669.4 210.5 L669.6 208.3 L669.9 207.8 L670.1 209.2 L670.4 209.6 L670.6 207.1 L670.8 211.7 L671.1 204.4 L671.3 209.1 L671.6 216.7 L671.8 205.9 L672.1 209.5 L672.3 201.6 L672.6 206.6 L672.8 205.3 L673.0 210.3 L673.3 208.0 L673.5 218.4 L673.8 206.1 L674.0 210.3 L674.3 211.5 L674.5 213.6 L674.8 214.8 L675.0 203.4 L675.2 220.7 L675.5 209.4 L675.7 207.6 L676.0 203.4 L676.2 209.0 L676.5 203.1 L676.7 212.0 L677.0 208.5 L677.2 212.7 L677.4 207.8 L677.7 211.7 L677.9 220.9 L678.2 216.6 L678.4 212.2 L678.7 206.9 L678.9 218.0 L679.2 203.1 L679.4 204.1 L679.6 217.4 L679.9 207.7 L680.1 217.8 L680.4 213.7 L680.6 222.5 L680.9 220.5 L681.1 213.9 L681.4 207.1 L681.6 214.1 L681.8 218.7 L682.1 211.7 L682.3 198.8 L682.6 208.9 L682.8 209.1 L683.1 210.9 L683.3 209.3 L683.6 217.9 L683.8 204.3 L684.0 214.1 L684.3 200.4 L684.5 199.4 L684.8 206.0 L685.0 207.6 L685.3 206.9 L685.5 208.1 L685.8 215.7 L686.0 215.6 L686.2 212.8 L686.5 213.6 L686.7 208.5 L687.0 206.9 L687.2 204.4 L687.5 210.3 L687.7 206.3 L688.0 211.0 L688.2 217.2 L688.4 216.3 L688.7 220.9 L688.9 207.8 L689.2 201.0 L689.4 207.2 L689.7 224.8 L689.9 217.6 L690.2 211.5 L690.4 221.1 L690.6 212.0 L690.9 223.1 L691.1 212.4 L691.4 212.5 L691.6 218.2 L691.9 209.2 L692.1 214.2 L692.4 224.5 L692.6 217.3 L692.8 210.2 L693.1 214.4 L693.3 215.5 L693.6 212.4 L693.8 217.8 L694.1 221.5 L694.3 216.4 L694.6 220.1 L694.8 217.5 L695.0 216.7 L695.3 212.6 L695.5 220.6 L695.8 222.5 L696.0 213.8 L696.3 211.7 L696.5 218.5 L696.8 216.4 L697.0 221.6 L697.2 218.4 L697.5 215.2 L697.7 208.4 L698.0 219.1 L698.2 216.3 L698.5 208.7 L698.7 207.4 L699.0 205.3 L699.2 219.2 L699.4 213.1 L699.7 202.9 L699.9 210.3 L700.2 211.7 L700.4 214.8 L700.7 215.7 L700.9 213.3 L701.2 220.1 L701.4 221.8 L701.6 214.1 L701.9 225.1 L702.1 214.8 L702.4 210.5 L702.6 216.6 L702.9 207.4 L703.1 214.1 L703.4 209.8 L703.6 213.5 L703.8 217.0 L704.1 204.3 L704.3 218.1 L704.6 217.5 L704.8 215.0 L705.1 219.9 L705.3 218.1 L705.6 214.7 L705.8 211.6 L706.0 220.5 L706.3 220.8 L706.5 209.8 L706.8 213.6 L707.0 211.6 L707.3 221.7 L707.5 214.9 L707.8 211.7 L708.0 229.2 L708.2 220.3 L708.5 219.2 L708.7 219.2 L709.0 216.9 L709.2 217.9 L709.5 222.6 L709.7 220.1 L710.0 215.0 L710.2 218.0 L710.4 228.2 L710.7 214.1 L710.9 209.5 L711.2 217.9 L711.4 206.0 L711.7 230.2 L711.9 221.0 L712.2 220.8 L712.4 219.5 L712.6 228.8 L712.9 211.6 L713.1 217.2 L713.4 208.1 L713.6 224.5 L713.9 217.2 L714.1 227.3 L714.4 216.2 L714.6 212.1 L714.8 214.0 L715.1 222.0 L715.3 213.5 L715.6 219.2 L715.8 214.2 L716.1 214.3 L716.3 215.2 L716.6 226.1 L716.8 212.7 L717.0 219.7 L717.3 222.2 L717.5 214.6 L717.8 210.9 L718.0 225.7 L718.3 226.9 L718.5 217.3 L718.8 212.7 L719.0 222.9 L719.2 218.5 L719.5 214.7 L719.7 216.9 L720.0 208.5 L720.2 215.0 L720.5 213.1 L720.7 212.7 L721.0 221.9 L721.2 220.4 L721.4 227.3 L721.7 209.1 L721.9 229.6 L722.2 215.3 L722.4 226.0 L722.7 224.6 L722.9 220.1 L723.2 220.0 L723.4 215.6 L723.6 216.9 L723.9 217.3 L724.1 208.1 L724.4 230.2 L724.6 223.9 L724.9 231.6 L725.1 226.8 L725.4 222.6 L725.6 224.4 L725.8 210.8 L726.1 214.5 L726.3 224.3 L726.6 218.0" stroke="#ff0000" stroke-width="1.50" fill="none" stroke-linejoin="round"/>
<path d="M415 243.3 L429.1 265.5 H422.5 V289.5 H407.5 V265.5 H401.4 Z" fill="#fff" stroke="#000" stroke-width="1.1"/>
<text stroke="#000" stroke-width="0.18" x="358.3" y="306.8" font-size="14.6" textLength="136.5" lengthAdjust="spacingAndGlyphs">?Dazu keine Bestä-</text>
<text stroke="#000" stroke-width="0.18" x="358.3" y="328.4" font-size="14.6" textLength="107.5" lengthAdjust="spacingAndGlyphs">tigung in NOAA</text>
<text stroke="#000" stroke-width="0.15" x="545.2" y="136.9" font-size="14.6" textLength="36" lengthAdjust="spacingAndGlyphs">C 8.5</text>
<text stroke="#000" stroke-width="0.15" x="613.2" y="158.9" font-size="14.6" textLength="36" lengthAdjust="spacingAndGlyphs">C 8.6</text>
</g></svg></body></html>
